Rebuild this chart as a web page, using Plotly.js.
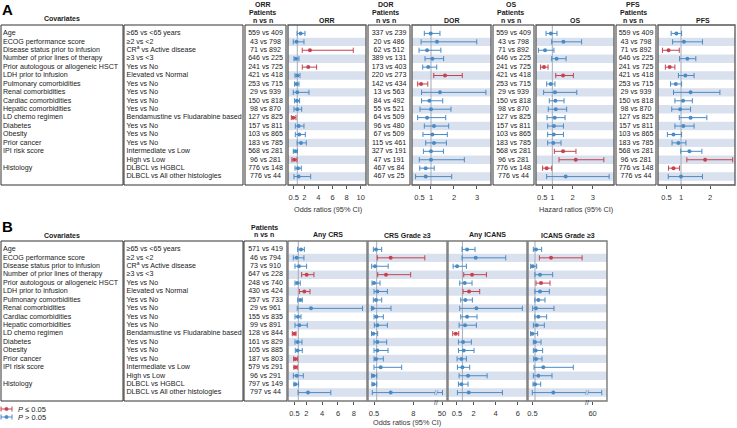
<!DOCTYPE html>
<html><head><meta charset="utf-8">
<script src="https://cdn.plot.ly/plotly-3.0.1.min.js"></script>
<style>html,body{margin:0;padding:0;background:#fff}#chart{width:737px;height:428px}</style>
</head><body><div id="chart"></div>
<script>
// ---------- DATA ----------
const covariates = ["Age","ECOG performance score","Disease status prior to infusion","Number of prior lines of therapy","Prior autologous or allogeneic HSCT","LDH prior to infusion","Pulmonary comorbidities","Renal comorbidities","Cardiac comorbidities","Hepatic comorbidities","LD chemo regimen","Diabetes","Obesity","Prior cancer","IPI risk score","","Histology",""];
const comparisons = ["≥65 vs <65 years","≥2 vs <2","CR<sup>a</sup> vs Active disease","≥3 vs <3","Yes vs No","Elevated vs Normal","Yes vs No","Yes vs No","Yes vs No","Yes vs No","Bendamustine vs Fludarabine based","Yes vs No","Yes vs No","Yes vs No","Intermediate vs Low","High vs Low","DLBCL vs HGBCL","DLBCL vs All other histologies"];

const nORR = ["559 vs 409","43 vs 798","71 vs 892","646 vs 225","241 vs 725","421 vs 418","253 vs 715","29 vs 939","150 vs 818","98 vs 870","127 vs 825","157 vs 811","103 vs 865","183 vs 785","568 vs 281","96 vs 281","776 vs 148","776 vs 44"];
const nDOR = ["337 vs 239","20 vs 486","62 vs 512","389 vs 131","173 vs 403","220 vs 273","142 vs 434","13 vs 563","84 vs 492","55 vs 521","64 vs 509","96 vs 480","67 vs 509","115 vs 461","327 vs 191","47 vs 191","467 vs 84","467 vs 25"];
const nOS = ["559 vs 409","43 vs 798","71 vs 892","646 vs 225","241 vs 725","421 vs 418","253 vs 715","29 vs 939","150 vs 818","98 vs 870","127 vs 825","157 vs 811","103 vs 865","183 vs 785","568 vs 281","96 vs 281","776 vs 148","776 vs 44"];
const nPFS = ["559 vs 409","43 vs 798","71 vs 892","646 vs 225","241 vs 725","421 vs 418","253 vs 715","29 vs 939","150 vs 818","98 vs 870","127 vs 825","157 vs 811","103 vs 865","183 vs 785","568 vs 281","96 vs 281","776 vs 148","776 vs 44"];
const nSafety = ["571 vs 419","46 vs 794","73 vs 910","647 vs 228","248 vs 740","430 vs 424","257 vs 733","29 vs 961","155 vs 835","99 vs 891","128 vs 844","161 vs 829","105 vs 885","187 vs 803","579 vs 291","96 vs 291","797 vs 149","797 vs 44"];

const orrEst = [1.47,0.9,2.8,0.81,2.56,1.0,0.9,1.0,0.95,1.0,0.43,1.19,1.28,1.52,0.72,0.57,1.1,1.19];
const orrLo  = [0.97,0.43,1.7,0.53,1.71,0.67,0.62,0.43,0.62,0.53,0.15,0.72,0.72,0.98,0.43,0.24,0.67,0.53];
const orrHi  = [2.09,1.95,8.95,1.24,3.75,1.38,1.24,2.66,1.33,1.62,0.81,1.95,2.14,2.28,1.02,0.95,1.57,2.9];

const dorEst = [0.99,1.26,0.83,1.06,0.88,1.61,0.57,1.39,0.93,1.0,0.83,1.13,1.06,1.13,1.0,1.0,0.77,0.77];
const dorLo  = [0.71,0.57,0.48,0.74,0.64,1.12,0.42,0.59,0.59,0.52,0.42,0.71,0.65,0.77,0.67,0.49,0.51,0.33];
const dorHi  = [1.39,2.99,1.43,1.55,1.25,2.36,0.86,3.39,1.51,1.87,1.64,1.77,1.71,1.67,1.54,2.45,1.14,1.9];

const osEst = [0.93,1.55,0.64,1.21,0.59,1.53,0.92,1.13,1.15,1.17,1.12,1.08,1.07,1.05,1.53,2.16,0.72,1.66];
const osLo  = [0.69,0.97,0.31,0.97,0.42,1.17,0.72,0.57,0.85,0.8,0.74,0.77,0.77,0.77,1.1,1.33,0.52,0.72];
const osHi  = [1.23,2.45,1.08,1.68,0.79,2.04,1.13,2.21,1.58,1.71,1.63,1.55,1.55,1.43,2.17,3.55,0.97,3.81];

const pfsEst = [0.84,1.1,0.57,1.22,0.61,1.15,0.82,1.33,1.07,0.97,1.33,1.08,0.74,0.91,1.29,1.83,0.74,1.0];
const pfsLo  = [0.66,0.71,0.36,0.95,0.46,0.91,0.64,0.74,0.79,0.68,0.94,0.79,0.53,0.69,0.99,1.2,0.57,0.56];
const pfsHi  = [1.02,1.74,0.94,1.51,0.79,1.45,1.02,2.34,1.39,1.33,1.89,1.45,1.02,1.17,1.72,2.78,0.95,1.74];

const crsEst = [1.34,0.79,1.08,2.05,0.87,1.76,1.25,2.6,0.96,1.13,0.5,0.92,0.92,0.62,0.62,0.79,0.62,2.22];
const crsLo  = [0.92,0.37,0.58,1.42,0.58,1.13,0.92,0.87,0.58,0.58,0.24,0.58,0.62,0.41,0.45,0.37,0.45,0.98];
const crsHi  = [1.76,1.71,2.05,2.97,1.25,2.47,1.5,9.1,1.34,2.13,0.71,1.46,1.5,0.92,0.87,1.63,1.04,5.1];

const crs3Est = [0.87,3.67,0.68,2.78,0.49,1.13,0.87,0.24,0.94,1.13,0.36,1.13,1.13,0.87,1.76,0.36,0.4,3.68];
const crs3Lo  = [0.36,1.13,0.04,1.19,0.1,0.49,0.36,0.02,0.49,0.55,0.02,0.49,0.49,0.49,0.49,0.04,0.1,0.16];
const crs3Hi  = [1.96,10.2,3.2,7.5,1.64,3.04,1.96,3.74,2.27,3.04,1.19,2.91,3.17,2.27,5.78,1.02,1.02,50.5];

const icansEst = [1.42,2.2,0.52,1.87,1.21,1.6,1.27,2.26,1.42,1.24,0.4,1.06,1.12,0.91,1.0,1.51,0.91,1.57];
const icansLo  = [0.97,0.97,0.16,1.12,0.76,1.06,0.85,0.76,0.85,0.7,0.13,0.64,0.64,0.52,0.55,0.7,0.64,0.55];
const icansHi  = [2.14,4.91,1.36,3.17,1.87,2.56,1.9,6.41,2.32,2.26,0.67,1.81,2.05,1.36,1.66,3.23,1.51,4.61];

const icans3Est = [1.19,4.06,0.55,1.96,2.15,1.96,1.64,1.19,1.64,1.32,0.49,1.0,1.13,1.19,2.59,1.64,1.0,4.5];
const icans3Lo  = [0.68,1.83,0.17,0.98,1.19,0.98,0.98,0.55,0.98,0.68,0.17,0.68,0.68,0.75,0.81,0.68,0.62,0.48];
const icans3Hi  = [2.27,10.0,1.32,4.38,3.87,3.74,2.91,4.63,3.23,2.78,1.51,2.15,2.46,2.34,8.32,4.25,2.08,67];

const ticksORR = [0.5,2,4,6,8,10];
const ticksDOR = [0.5,1,2,3];
const ticksOS = [0.5,1,2,3];
const ticksPFS = [0.5,1,2];
const ticksCRS = [0.5,2,4,6,8];
const ticksCRS3 = [0.5,8];
const ticksCRS3Hi = [50];
const ticksICANS = [0.5,2,4,6];
const ticksICANS3 = [0.5];
const ticksICANS3Hi = [60];

// ---------- STYLE / LAYOUT ----------
const W = 737, H = 428;
const FONT = 'Arial, "Liberation Sans", sans-serif';
const PX = v => v / W, PY = v => 1 - v / H;
const RED = '#c8414e', BLUE = '#4a8bc6', BAND = '#d9e1ef', REF = '#a3acb8';
const TXT = '#1a1a1a';

const layout = {
  width: W, height: H, margin: {l:0, r:0, t:0, b:0},
  paper_bgcolor: 'white', plot_bgcolor: 'rgba(0,0,0,0)',
  showlegend: false, hovermode: false,
  font: {family: FONT, size: 7, color: TXT},
  shapes: [], annotations: []
};
layout.yaxis  = {domain: [PY(185), PY(25)],  range: [19, 0], visible: false, anchor: 'x'};
layout.yaxis2 = {domain: [PY(401), PY(241)], range: [19, 0], visible: false, anchor: 'x'};

const traces = [];
let axN = 0;
function addX(x0, x1, ya, opts) {
  axN++;
  const key = axN === 1 ? 'xaxis' : 'xaxis' + axN;
  const id = axN === 1 ? 'x' : 'x' + axN;
  layout[key] = Object.assign({domain: [PX(x0), PX(x1)], anchor: ya, showgrid: false, zeroline: false, fixedrange: true}, opts);
  return id;
}
// text columns: left-aligned ones get a small inner padding (in px)
function textAxis(x0, x1, ya, padPx) {
  const w = x1 - x0, p = (padPx || 0) / w;
  return addX(x0, x1, ya, {visible: false, range: [-p, 1 - p]});
}
function plotAxis(x0, x1, ya, range, tickvals) {
  return addX(x0, x1, ya, {
    range: range, tickmode: 'array', tickvals: tickvals, ticktext: tickvals.map(String),
    ticks: 'outside', ticklen: 3, tickwidth: 1, tickcolor: '#555', showline: false,
    tickfont: {size: 7.5, color: '#333', family: FONT}, ticklabelstandoff: 2
  });
}
function textCol(xa, ya, labels, align) {
  const idx = labels.map((_, i) => i).filter(i => labels[i] !== '');
  traces.push({
    type: 'scatter', mode: 'text', xaxis: xa, yaxis: ya,
    x: idx.map(() => align === 'left' ? 0 : 0.5),
    y: idx.map(i => i + 1),
    text: idx.map(i => labels[i]), textposition: align === 'left' ? 'middle right' : 'middle center',
    textfont: {size: 7.1, color: TXT, family: FONT}, cliponaxis: false, hoverinfo: 'skip'
  });
}
function forest(xa, ya, est, lo, hi) {
  const rows = est.map((_, i) => i);
  [[true, RED], [false, BLUE]].forEach(([sig, col]) => {
    const idx = rows.filter(i => (lo[i] > 1 || hi[i] < 1) === sig);
    traces.push({
      type: 'scatter', mode: 'markers', xaxis: xa, yaxis: ya,
      x: idx.map(i => est[i]), y: idx.map(i => i + 1),
      error_x: {type: 'data', symmetric: false, array: idx.map(i => hi[i] - est[i]),
                arrayminus: idx.map(i => est[i] - lo[i]), color: col, thickness: 1, width: 2.6},
      marker: {size: 4, color: col}, hoverinfo: 'skip'
    });
  });
}
function forestTail(xa, ya, lo, hi, brk) {
  const rows = hi.map((_, i) => i).filter(i => hi[i] > brk);
  [[true, RED], [false, BLUE]].forEach(([sig, col]) => {
    const idx = rows.filter(i => (lo[i] > 1 || hi[i] < 1) === sig);
    if (!idx.length) return;
    traces.push({
      type: 'scatter', mode: 'markers', xaxis: xa, yaxis: ya,
      x: idx.map(i => hi[i]), y: idx.map(i => i + 1),
      error_x: {type: 'data', symmetric: false, array: idx.map(() => 0),
                arrayminus: idx.map(i => hi[i] - lo[i]), color: col, thickness: 1, width: 2.6},
      marker: {size: 4, color: col, opacity: 0}, hoverinfo: 'skip'
    });
  });
}
function bands(x0, x1, yref, n) {
  for (let r = 2; r <= n; r += 2) {
    layout.shapes.push({type: 'rect', layer: 'below', xref: 'paper', yref: yref,
      x0: PX(x0), x1: PX(x1), y0: r - 0.5, y1: r + 0.5, fillcolor: BAND, line: {width: 0}});
  }
}
function refLine(xa, ya) {
  layout.shapes.push({type: 'line', layer: 'below', xref: xa, yref: ya + ' domain',
    x0: 1, x1: 1, y0: 0, y1: 1, line: {color: REF, width: 1}});
}
function box(x0, x1, y0, y1, col, w) {
  layout.shapes.push({type: 'rect', layer: 'above', xref: 'paper', yref: 'paper',
    x0: PX(x0), x1: PX(x1), y0: PY(y1), y1: PY(y0), line: {color: col, width: w}, fillcolor: 'rgba(0,0,0,0)'});
}
function ann(text, x, y, opts) {
  layout.annotations.push(Object.assign({text: text, xref: 'paper', yref: 'paper', x: PX(x), y: PY(y),
    showarrow: false, xanchor: 'center', yanchor: 'middle', font: {size: 7, color: TXT, family: FONT}}, opts || {}));
}
const B = s => '<b>' + s + '</b>';

// ---------- PANEL A ----------
const A0 = 25, A1 = 185;
const aCov = textAxis(1, 123, 'y', 2); textCol(aCov, 'y', covariates, 'left');
const aCmp = textAxis(124, 243, 'y', 2.5); textCol(aCmp, 'y', comparisons, 'left');
box(1, 123, A0, A1, '#333', 1); box(124, 243, A0, A1, '#333', 1);
ann(B('A'), 0, 10, {xanchor: 'left', font: {size: 15, color: '#000', family: FONT}});
ann(B('Covariates'), 62, 19);

const panelsA = [
  {name: 'ORR', n: nORR, est: orrEst, lo: orrLo, hi: orrHi, nb: [245, 286], pb: [288, 366], range: [-0.32, 10.76], ticks: ticksORR},
  {name: 'DOR', n: nDOR, est: dorEst, lo: dorLo, hi: dorHi, nb: [368, 410], pb: [412, 491], range: [0.174, 3.61], ticks: ticksDOR},
  {name: 'OS',  n: nOS,  est: osEst,  lo: osLo,  hi: osHi,  nb: [493, 534], pb: [536, 614], range: [0.193, 4.05], ticks: ticksOS},
  {name: 'PFS', n: nPFS, est: pfsEst, lo: pfsLo, hi: pfsHi, nb: [616, 656], pb: [658, 735], range: [0.207, 2.86], ticks: ticksPFS}
];
panelsA.forEach((p, k) => {
  const xn = textAxis(p.nb[0], p.nb[1], 'y'); textCol(xn, 'y', p.n, 'center');
  box(p.nb[0], p.nb[1], A0, A1, '#333', 1);
  const hc = (p.nb[0] + p.nb[1]) / 2 - 3;
  ann(B(p.name), hc, 4); ann(B('Patients'), hc, 12); ann(B('n vs n'), hc, 20);
  bands(p.pb[0], p.pb[1], 'y', 18);
  const xp = plotAxis(p.pb[0], p.pb[1], 'y', p.range, p.ticks);
  refLine(xp, 'y');
  forest(xp, 'y', p.est, p.lo, p.hi);
  box(p.pb[0], p.pb[1], A0, A1, '#555', 1.3);
  ann(B(p.name), (p.pb[0] + p.pb[1]) / 2 + (k === 3 ? 6 : 0), 20);
});
ann('Odds ratios (95% CI)', 328, 209, {font: {size: 7.3, color: '#333', family: FONT}});
ann('Hazard ratios (95% CI)', 576, 209, {font: {size: 7.3, color: '#333', family: FONT}});

// ---------- PANEL B ----------
const B0 = 241, B1 = 401;
const bCov = textAxis(1, 123, 'y2', 2); textCol(bCov, 'y2', covariates, 'left');
const bCmp = textAxis(124, 243, 'y2', 2.5); textCol(bCmp, 'y2', comparisons, 'left');
box(1, 123, B0, B1, '#333', 1); box(124, 243, B0, B1, '#333', 1);
ann(B('B'), 0, 226, {xanchor: 'left', font: {size: 15, color: '#000', family: FONT}});
ann(B('Covariates'), 62, 235);
const bN = textAxis(244, 287, 'y2'); textCol(bN, 'y2', nSafety, 'center');
box(244, 287, B0, B1, '#333', 1);
ann(B('Patients'), 264, 227); ann(B('n vs n'), 264, 234);
bands(288, 607, 'y2', 18);

const xCRS = plotAxis(288, 367, 'y2', [-0.30, 9.66], ticksCRS);
refLine(xCRS, 'y2'); forest(xCRS, 'y2', crsEst, crsLo, crsHi);

const brkCRS3 = 12.15;
const xCRS3 = plotAxis(368, 435, 'y2', [-0.66, brkCRS3], ticksCRS3);
const xCRS3b = plotAxis(437, 447, 'y2', [45, 55], ticksCRS3Hi);
refLine(xCRS3, 'y2'); forest(xCRS3, 'y2', crs3Est, crs3Lo, crs3Hi);
forestTail(xCRS3b, 'y2', crs3Lo, crs3Hi, brkCRS3);

const xIC = plotAxis(448, 527, 'y2', [-0.30, 6.83], ticksICANS);
refLine(xIC, 'y2'); forest(xIC, 'y2', icansEst, icansLo, icansHi);

const brkIC3 = 10.75;
const xIC3 = plotAxis(528, 586, 'y2', [-0.34, brkIC3], ticksICANS3);
const xIC3b = plotAxis(588, 607, 'y2', [56.5, 71], ticksICANS3Hi);
refLine(xIC3, 'y2'); forest(xIC3, 'y2', icans3Est, icans3Lo, icans3Hi);
forestTail(xIC3b, 'y2', icans3Lo, icans3Hi, brkIC3);

[[288, 367, 'Any CRS'], [368, 447, 'CRS Grade ≥3'], [448, 527, 'Any ICANS'], [528, 607, 'ICANS Grade ≥3']].forEach(([a, b, t]) => {
  box(a, b, B0, B1, '#7a7a7a', 1.4);
  ann(B(t), (a + b) / 2, 235);
});
// axis-break marks
[[436, crs3Hi, brkCRS3], [587, icans3Hi, brkIC3]].forEach(([xb, hiArr, brk]) => {
  ann('//', xb, B1 + 1, {font: {size: 7, color: '#333', family: FONT}});
  hiArr.forEach((h, i) => { if (h > brk) ann('//', xb, B0 + (B1 - B0) * (i + 1) / 19, {font: {size: 7, color: BLUE, family: FONT}}); });
});
ann('Odds ratios (95% CI)', 407, 422, {font: {size: 7.3, color: '#333', family: FONT}});

// legend (drawn)
[[409, RED, '<i>P</i> ≤ 0.05'], [417, BLUE, '<i>P</i> > 0.05']].forEach(([y, col, t]) => {
  layout.shapes.push({type: 'line', xref: 'paper', yref: 'paper', x0: PX(1), x1: PX(12), y0: PY(y), y1: PY(y), line: {color: col, width: 1}});
  layout.shapes.push({type: 'line', xref: 'paper', yref: 'paper', x0: PX(1), x1: PX(1), y0: PY(y - 2.5), y1: PY(y + 2.5), line: {color: col, width: 1}});
  layout.shapes.push({type: 'line', xref: 'paper', yref: 'paper', x0: PX(12), x1: PX(12), y0: PY(y - 2.5), y1: PY(y + 2.5), line: {color: col, width: 1}});
  layout.shapes.push({type: 'circle', xref: 'paper', yref: 'paper', x0: PX(4.8), x1: PX(8.2), y0: PY(y + 1.7), y1: PY(y - 1.7), fillcolor: col, line: {color: col, width: 0.5}});
  ann(t, 16, y, {xanchor: 'left', font: {size: 7.5, color: '#222', family: FONT}});
});

Plotly.newPlot('chart', traces, layout, {staticPlot: true, displayModeBar: false});
</script>
</body></html>
